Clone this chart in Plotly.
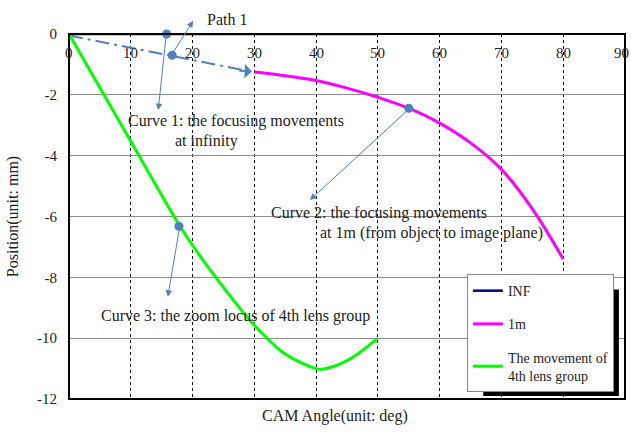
import plotly.graph_objects as go

# ---- data ----
inf_x = [0, 50]
inf_y = [0, 0]

m1_x = [30, 35, 40, 45, 50, 55, 60, 65, 70, 75, 80]
m1_y = [-1.25, -1.37, -1.53, -1.78, -2.08, -2.44, -2.93, -3.58, -4.45, -5.75, -7.4]

g_x = [0, 5, 10, 15, 18, 20, 25, 30, 35, 40, 41, 45, 50]
g_y = [0, -1.77, -3.53, -5.3, -6.33, -6.95, -8.33, -9.57, -10.52, -11.0, -11.02, -10.74, -10.0]

path_x = [0, 29.0]
path_y = [-0.05, -1.22]

dot_x = [15.8, 16.7, 55, 17.8]
dot_y = [0, -0.7, -2.44, -6.32]

x_ticks = [0, 10, 20, 30, 40, 50, 60, 70, 80, 90]
x_ticktext = ["0", "10", "20", "30", "40", "50", "60", "70", "80", "90"]
y_ticks = [0, -2, -4, -6, -8, -10, -12]
y_ticktext = ["0", "-2", "-4", "-6", "-8", "-10", "-12"]

FONT = "Liberation Serif"
TXT = "#222222"
BLUE = "#4F81BD"

fig = go.Figure()

fig.add_trace(go.Scatter(x=path_x, y=path_y, mode="lines",
                         line=dict(color=BLUE, width=2, dash="14px,5px,3px,5px"),
                         showlegend=False, hoverinfo="skip"))
fig.add_trace(go.Scatter(x=inf_x, y=inf_y, mode="lines", name="INF",
                         line=dict(color="#000080", width=2.5), cliponaxis=False,
                         legendgroup="a"))
fig.add_trace(go.Scatter(x=m1_x, y=m1_y, mode="lines", name="1m",
                         line=dict(color="#FF00FF", width=3, shape="spline"),
                         legendgroup="b"))
fig.add_trace(go.Scatter(x=g_x, y=g_y, mode="lines",
                         name="The movement of<br>4th lens group",
                         line=dict(color="#00FF00", width=3, shape="spline"),
                         legendgroup="c"))
fig.add_trace(go.Scatter(x=dot_x, y=dot_y, mode="markers",
                         marker=dict(color=BLUE, size=9), cliponaxis=False,
                         showlegend=False, hoverinfo="skip"))

def arrow(x, y, ax, ay, yref="y"):
    fig.add_annotation(x=x, y=y, xref="x", yref=yref, ax=ax, ay=ay, text="",
                       showarrow=True, arrowhead=2, arrowsize=1.3, arrowwidth=1,
                       arrowcolor=BLUE)

arrow(14.45, -2.5, 8, -76)
arrow(20.1, 1.036, -21, 33, yref="paper")
arrow(39.0, -5.46, 99, -91)
arrow(16.0, -8.64, 12, -71)
# arrowhead of dash-dot path
fig.add_annotation(x=29.6, y=-1.23, xref="x", yref="y", ax=-14, ay=-0.6, text="",
                   showarrow=True, arrowhead=1, arrowsize=1.2, arrowwidth=2,
                   arrowcolor=BLUE)

def label(x, y, text, xanchor="center", yref="y"):
    fig.add_annotation(x=x, y=y, xref="x", yref=yref, text=text, showarrow=False,
                       xanchor=xanchor, yanchor="middle",
                       font=dict(family=FONT, size=16, color=TXT))

label(22.0, 1.04, "Path 1", xanchor="left", yref="paper")
label(27.0, -2.86, "Curve 1: the focusing movements")
label(22.2, -3.52, "at infinity")
label(50.2, -5.89, "Curve 2: the focusing movements")
label(58.7, -6.55, "at 1m (from object to image plane)")
label(27.0, -9.28, "Curve 3: the zoom locus of 4th lens group")

# x tick labels (drawn inside the plot, just below the top edge)
for v, t in zip(x_ticks, x_ticktext):
    fig.add_annotation(x=v, y=0.948, xref="x", yref="paper", text=t,
                       showarrow=False, xanchor="center", yanchor="middle",
                       xshift=-4 if v == 90 else 0,
                       font=dict(family=FONT, size=15, color=TXT))

fig.add_annotation(x=0.478, y=-0.077, xref="paper", yref="paper",
                   text="CAM Angle(unit: deg)", showarrow=False,
                   font=dict(family=FONT, size=16, color=TXT))

# legend shadow and frame
fig.add_shape(type="rect", xref="paper", yref="paper",
              x0=0.745, x1=0.989, y0=0.008, y1=0.30,
              fillcolor="black", line=dict(width=0), layer="above")
fig.add_shape(type="rect", xref="paper", yref="paper", x0=0, x1=1, y0=0, y1=1,
              line=dict(color="black", width=2), layer="above")

fig.update_layout(
    width=631, height=435,
    margin=dict(l=69, r=6, t=34, b=36),
    paper_bgcolor="white", plot_bgcolor="white",
    font=dict(family=FONT, size=14, color=TXT),
    xaxis=dict(range=[0, 90], tickvals=x_ticks, showticklabels=False,
               showgrid=True, gridcolor="black", griddash="dot", gridwidth=1,
               zeroline=False, showline=False, ticks=""),
    yaxis=dict(range=[-12, 0], tickvals=y_ticks, ticktext=y_ticktext,
               showgrid=True, gridcolor="#8c8c8c", gridwidth=1.2, zeroline=False,
               showline=False, ticks="outside", ticklen=8, tickcolor="white",
               tickfont=dict(family=FONT, size=15, color=TXT),
               title=dict(text="Position(unit: mm)", standoff=14,
                          font=dict(family=FONT, size=16, color=TXT))),
    legend=dict(x=0.980, y=0.019, xanchor="right", yanchor="bottom",
                bgcolor="white", bordercolor="#888888", borderwidth=1,
                font=dict(family=FONT, size=14, color=TXT),
                itemwidth=30, tracegroupgap=12),
    showlegend=True,
)

fig.write_html("out.html")
